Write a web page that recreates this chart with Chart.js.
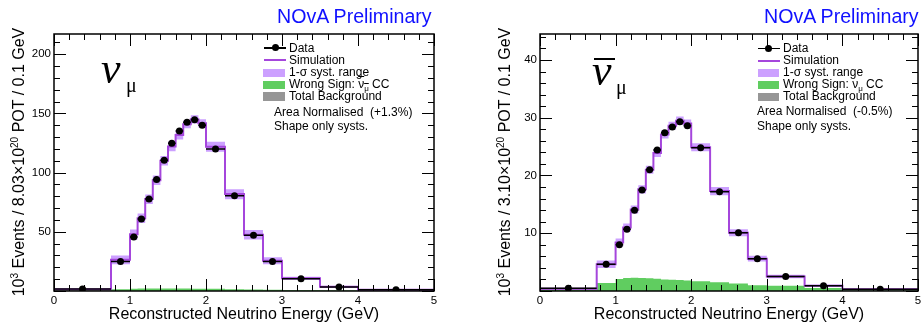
<!DOCTYPE html>
<html><head><meta charset="utf-8">
<script src="https://cdn.jsdelivr.net/npm/chart.js@4.4.0/dist/chart.umd.min.js"></script>
<style>
html,body{margin:0;padding:0;background:#fff;}
#wrap{position:relative;width:922px;height:327px;overflow:hidden;font-family:"Liberation Sans",Arial,sans-serif;color:#000;}
canvas{position:absolute;top:0;}
.t{position:absolute;white-space:nowrap;line-height:1;}
.nova{font-size:19.6px;color:#1010ff;}
.leg{font-size:12px;}
.ytitle{position:absolute;width:320px;text-align:center;font-size:16px;line-height:1;white-space:nowrap;transform:translate(-50%,-50%) rotate(-90deg);}
.ytitle sup{font-size:10px;vertical-align:6px;line-height:0;}
.nu{position:absolute;font-family:"Liberation Serif",serif;font-style:italic;font-size:44px;line-height:1;}
.mu{position:absolute;font-family:"Liberation Serif",serif;font-size:20px;line-height:1;}
.box{position:absolute;}
.sub{font-size:8px;vertical-align:-3px;line-height:0;}
</style></head>
<body>
<div id="wrap">
<canvas id="c1" width="460" height="327" style="left:0;width:460px;height:327px"></canvas>
<canvas id="c2" width="462" height="327" style="left:460px;width:462px;height:327px"></canvas>

<div class="t nova" style="left:277px;top:6.7px">NOvA Preliminary</div>
<div class="t nova" style="left:764px;top:6.7px">NOvA Preliminary</div>

<div class="ytitle" style="left:18.5px;top:161.5px">10<sup>3</sup> Events / 8.03×10<sup>20</sup> POT / 0.1 GeV</div>
<div class="ytitle" style="left:505px;top:161.5px">10<sup>3</sup> Events / 3.10×10<sup>20</sup> POT / 0.1 GeV</div>

<div class="nu" style="left:101px;top:46.5px">ν</div>
<div class="mu" style="left:126px;top:75px">μ</div>
<div class="box" style="left:594px;top:58px;width:21px;height:2px;background:#000"></div>
<div class="nu" style="left:592px;top:48.5px">ν</div>
<div class="mu" style="left:616px;top:77px">μ</div>

<!-- legend left -->
<div class="box" style="left:264px;top:47px;width:22px;height:1.5px;background:#000"></div>
<div class="box" style="left:271.5px;top:44.3px;width:7px;height:7px;border-radius:50%;background:#000"></div>
<div class="box" style="left:264px;top:59px;width:22px;height:2px;background:rgb(165,70,220)"></div>
<div class="box" style="left:263px;top:68.5px;width:22px;height:8.5px;background:rgb(204,160,255)"></div>
<div class="box" style="left:263px;top:80.5px;width:22px;height:8.5px;background:rgb(96,205,96)"></div>
<div class="box" style="left:263px;top:92px;width:22px;height:8.5px;background:rgb(150,150,150)"></div>
<div class="t leg" style="left:289px;top:41.5px">Data</div>
<div class="t leg" style="left:289px;top:53.5px">Simulation</div>
<div class="t leg" style="left:289px;top:65.5px">1-σ syst. range</div>
<div class="t leg" style="left:289px;top:77.5px">Wrong Sign: <span style="text-decoration:overline">ν<span class="sub">μ</span></span> CC</div>
<div class="t leg" style="left:289px;top:89.5px">Total Background</div>
<div class="t leg" style="left:274px;top:105.5px">Area Normalised&nbsp;&nbsp;(+1.3%)</div>
<div class="t leg" style="left:274px;top:120px">Shape only systs.</div>

<!-- legend right -->
<div class="box" style="left:757.5px;top:47.5px;width:22px;height:1.5px;background:#000"></div>
<div class="box" style="left:765px;top:44.8px;width:7px;height:7px;border-radius:50%;background:#000"></div>
<div class="box" style="left:757.5px;top:59.5px;width:22px;height:2px;background:rgb(165,70,220)"></div>
<div class="box" style="left:757.5px;top:68.5px;width:21.5px;height:8.5px;background:rgb(204,160,255)"></div>
<div class="box" style="left:757.5px;top:80.5px;width:21.5px;height:8.5px;background:rgb(96,205,96)"></div>
<div class="box" style="left:757.5px;top:92.5px;width:21.5px;height:8.5px;background:rgb(150,150,150)"></div>
<div class="t leg" style="left:783px;top:42px">Data</div>
<div class="t leg" style="left:783px;top:54px">Simulation</div>
<div class="t leg" style="left:783px;top:66px">1-σ syst. range</div>
<div class="t leg" style="left:783px;top:78px">Wrong Sign: ν<span class="sub">μ</span> CC</div>
<div class="t leg" style="left:783px;top:90px">Total Background</div>
<div class="t leg" style="left:757px;top:105px">Area Normalised&nbsp;&nbsp;(-0.5%)</div>
<div class="t leg" style="left:757px;top:120px">Shape only systs.</div>
</div>

<script>
// ---- data ----
const binEdges = [0, 0.75, 1.0, 1.1, 1.2, 1.3, 1.4, 1.5, 1.6, 1.7, 1.8, 1.9, 2.0, 2.25, 2.5, 2.75, 3.0, 3.5, 4.0, 5.0];
const xTickLabels = ['0', '1', '2', '3', '4', '5'];

// numu (FHC) panel, 10^3 events
const numuData       = [1.7, 25, 45.5, 60.7, 77.6, 94.2, 110.5, 124.8, 135.2, 142.5, 144.5, 140, 120, 80.4, 47, 25, 10.4, 3.4, 1.1];
const numuSim        = [1.5, 26.4, 48, 61.5, 77.6, 93.6, 110, 122, 131.8, 140.8, 145, 141.6, 121.7, 81.8, 47.5, 25.5, 10.7, 3.5, 1.0];
const numuSystLow    = [1.3, 22.5, 43.5, 57.5, 73.5, 89.5, 106, 118, 128, 137.5, 141.5, 138, 117.5, 77.5, 43.5, 22.5, 9.5, 3.0, 0.8];
const numuSystHigh   = [1.7, 30, 52, 65.5, 81.5, 97.5, 114, 126, 135.5, 144, 148.5, 145, 126, 86, 51.5, 28.5, 12, 4.0, 1.2];
const numuWrongSign  = [0.2, 1.5, 2.0, 2.1, 2.2, 2.2, 2.2, 2.2, 2.1, 2.1, 2.0, 2.0, 1.8, 1.5, 1.2, 1.0, 0.7, 0.4, 0.1];
const numuBkg        = [1.2, 0.8, 0.7, 0.6, 0.6, 0.6, 0.6, 0.6, 0.6, 0.6, 0.6, 0.6, 0.6, 0.6, 0.6, 0.6, 0.5, 0.4, 0.3];
const numuYLabels    = [50, 100, 150, 200];

// numubar (RHC) panel, 10^3 events
const numubarData      = [0.46, 4.65, 8.0, 10.7, 14.0, 17.5, 21.0, 24.4, 27.4, 28.4, 29.3, 28.6, 24.8, 17.2, 10.1, 5.6, 2.5, 0.9, 0.3];
const numubarSim       = [0.4, 4.65, 8.4, 11.0, 14.1, 17.6, 21.0, 23.9, 27.1, 28.6, 29.5, 29.0, 24.9, 17.3, 10.1, 5.6, 2.5, 0.9, 0.3];
const numubarSystLow   = [0.3, 4.0, 7.7, 10.3, 13.4, 16.9, 20.3, 23.2, 26.4, 27.9, 28.8, 28.3, 24.2, 16.6, 9.5, 5.1, 2.2, 0.7, 0.2];
const numubarSystHigh  = [0.5, 5.3, 9.1, 11.7, 14.8, 18.3, 21.7, 24.6, 27.8, 29.3, 30.2, 29.7, 25.6, 18.0, 10.7, 6.1, 2.8, 1.1, 0.4];
const numubarWrongSign = [0.2, 1.4, 2.07, 2.24, 2.3, 2.27, 2.2, 2.1, 2.0, 1.95, 1.9, 1.8, 1.7, 1.5, 1.3, 1.0, 0.9, 0.5, 0.15];
const numubarBkg       = [0.35, 0.3, 0.3, 0.3, 0.3, 0.3, 0.3, 0.3, 0.3, 0.3, 0.3, 0.3, 0.3, 0.3, 0.3, 0.3, 0.2, 0.15, 0.1];
const numubarYLabels   = [10, 20, 30, 40];

// ---- helpers ----
Chart.defaults.font.family = '"Liberation Sans", Arial, sans-serif';
Chart.defaults.color = '#000';

function stepPts(vals) {
  const pts = vals.map((v, i) => ({x: binEdges[i], y: v}));
  pts.push({x: binEdges[binEdges.length - 1], y: vals[vals.length - 1]});
  return pts;
}
function xErrPts(vals) {
  const pts = [];
  vals.forEach((v, i) => {
    pts.push({x: binEdges[i], y: v});
    pts.push({x: binEdges[i + 1], y: v});
    pts.push({x: (binEdges[i] + binEdges[i + 1]) / 2, y: null});
  });
  return pts;
}
function centerPts(vals) {
  return vals.map((v, i) => ({x: (binEdges[i] + binEdges[i + 1]) / 2, y: v}));
}
const isMult = (v, s) => Math.abs(v / s - Math.round(v / s)) < 1e-6;

const frameTicks = {
  id: 'frameTicks',
  afterDatasetsDraw(chart, args, opts) {
    const {ctx, chartArea: a, scales: {x, y}} = chart;
    ctx.save();
    ctx.strokeStyle = '#000';
    ctx.lineWidth = 1;
    ctx.beginPath();
    x.ticks.forEach(t => {
      if (!isMult(t.value, 0.2)) return;
      const px = Math.round(x.getPixelForValue(t.value)) + 0.5;
      const L = isMult(t.value, 1) ? 12 : 6;
      ctx.moveTo(px, a.bottom); ctx.lineTo(px, a.bottom - L);
      ctx.moveTo(px, a.top); ctx.lineTo(px, a.top + L);
    });
    y.ticks.forEach(t => {
      if (!isMult(t.value, opts.minor)) return;
      const py = Math.round(y.getPixelForValue(t.value)) + 0.5;
      const L = isMult(t.value, opts.major) ? 12 : 6;
      ctx.moveTo(a.left, py); ctx.lineTo(a.left + L, py);
      ctx.moveTo(a.right, py); ctx.lineTo(a.right - L, py);
    });
    ctx.stroke();
    ctx.lineWidth = 1.5;
    ctx.strokeRect(a.left, a.top, a.right - a.left, a.bottom - a.top);
    ctx.restore();
  }
};

function makePanel(canvasId, p) {
  const SIM = 'rgb(165,70,220)', BAND = 'rgb(204,160,255)', GREEN = 'rgb(96,205,96)', GRAY = 'rgb(150,150,150)';
  const line = {pointRadius: 0, tension: 0, fill: false, spanGaps: false};
  new Chart(document.getElementById(canvasId), {
    type: 'line',
    data: {datasets: [
      {label: 'Data', type: 'scatter', data: centerPts(p.data), pointRadius: 3.5, pointBackgroundColor: '#000', pointBorderWidth: 0, showLine: false},
      Object.assign({label: 'Data x-width', data: xErrPts(p.data), borderColor: '#000', borderWidth: 1.5}, line),
      Object.assign({label: 'Simulation', data: stepPts(p.sim), stepped: 'before', borderColor: SIM, borderWidth: 2}, line),
      Object.assign({label: '1-sigma high', data: stepPts(p.hi), stepped: 'before', borderWidth: 0, borderColor: 'rgba(0,0,0,0)'}, line, {fill: {target: '+1'}, backgroundColor: BAND}),
      Object.assign({label: '1-sigma low', data: stepPts(p.lo), stepped: 'before', borderWidth: 0, borderColor: 'rgba(0,0,0,0)'}, line),
      Object.assign({label: 'Wrong sign', data: stepPts(p.ws), stepped: 'before', borderWidth: 0, borderColor: 'rgba(0,0,0,0)'}, line, {fill: 'origin', backgroundColor: GREEN}),
      Object.assign({label: 'Total background', data: stepPts(p.bkg), stepped: 'before', borderWidth: 0, borderColor: 'rgba(0,0,0,0)'}, line, {fill: 'origin', backgroundColor: GRAY})
    ]},
    options: {
      responsive: false, animation: false, devicePixelRatio: 1,
      layout: {padding: p.pad},
      plugins: {legend: {display: false}, tooltip: {enabled: false}, frameTicks: {major: p.major, minor: p.minor}},
      scales: {
        x: {
          type: 'linear', min: 0, max: 5,
          grid: {display: false, drawTicks: false}, border: {display: false},
          ticks: {stepSize: 0.2, autoSkip: false, maxRotation: 0, padding: 3, font: {size: 11.5},
            includeBounds: false,
            callback: v => isMult(v, 1) ? xTickLabels[Math.round(v)] : ''},
          title: {display: true, text: 'Reconstructed Neutrino Energy (GeV)', font: {size: 16}, padding: {top: 0, bottom: 3}},
          afterFit: s => { s.height = 36; s.paddingLeft = 0; s.paddingRight = 0; }
        },
        y: {
          type: 'linear', min: 0, max: p.ymax,
          grid: {display: false, drawTicks: false}, border: {display: false},
          ticks: {stepSize: p.minor, autoSkip: false, padding: 3, font: {size: 11.5}, includeBounds: false,
            callback: v => p.ylabels.some(l => Math.abs(v - l) < 1e-6) ? String(v) : ''},
          afterFit: s => { s.width = 54; s.paddingTop = 0; s.paddingBottom = 0; }
        }
      }
    },
    plugins: [frameTicks]
  });
}

makePanel('c1', {
  data: numuData, sim: numuSim, lo: numuSystLow, hi: numuSystHigh, ws: numuWrongSign, bkg: numuBkg,
  ymax: 217, major: 50, minor: 10, ylabels: numuYLabels,
  pad: {left: 0, right: 26, top: 34, bottom: 0}
});
makePanel('c2', {
  data: numubarData, sim: numubarSim, lo: numubarSystLow, hi: numubarSystHigh, ws: numubarWrongSign, bkg: numubarBkg,
  ymax: 44.5, major: 10, minor: 2, ylabels: numubarYLabels,
  pad: {left: 26, right: 1, top: 34, bottom: 0}
});
</script>
</body></html>
